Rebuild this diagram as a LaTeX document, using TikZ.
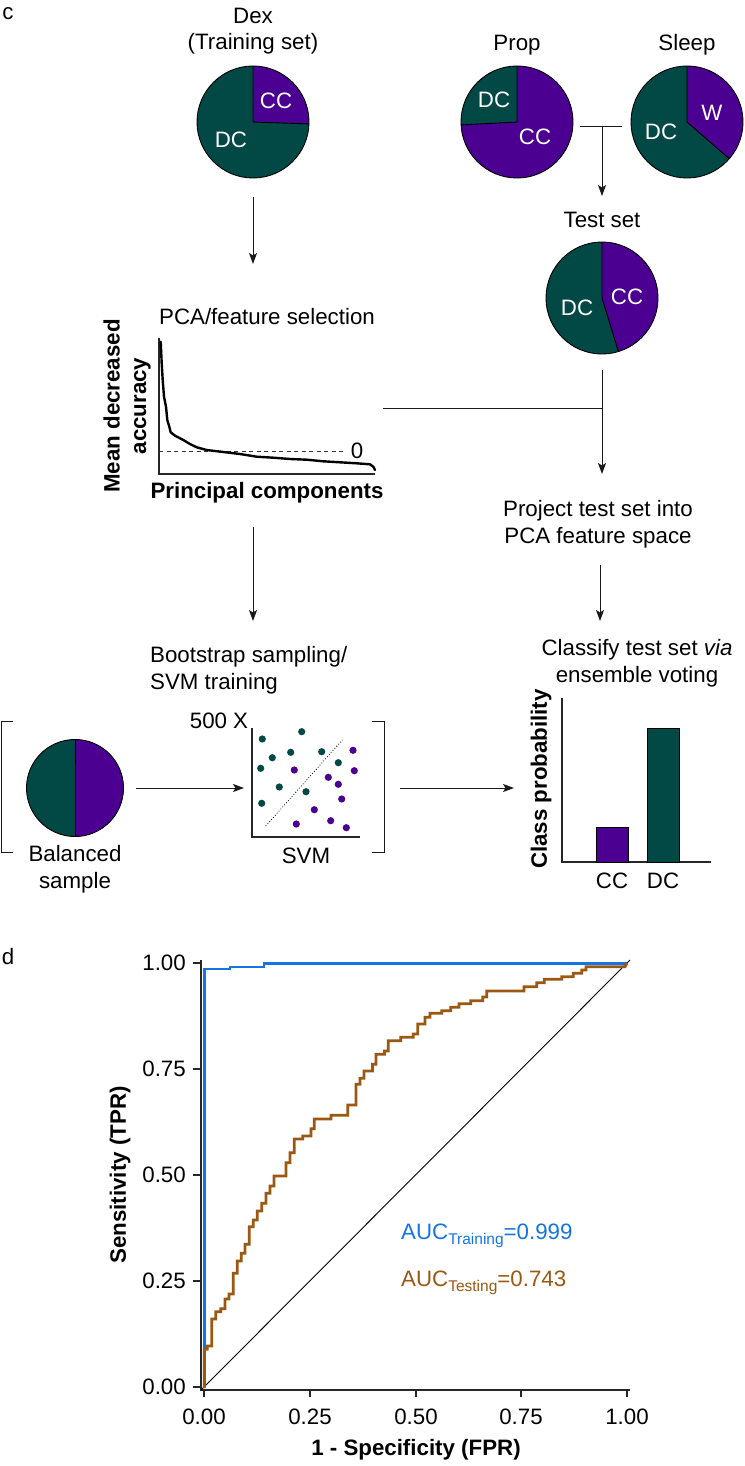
\documentclass[tikz,border=0pt]{standalone}
\usepackage{fontspec}
\setmainfont{Liberation Sans}
\usetikzlibrary{arrows.meta}
\definecolor{tealc}{RGB}{2,73,70}
\definecolor{purpc}{RGB}{75,0,145}
\definecolor{bluec}{RGB}{21,116,228}
\definecolor{brownc}{RGB}{155,88,18}
\newcommand\mkpie[5]{%
  \node[circle, minimum size=2*#3, inner sep=0pt] (#1) at #2 {};
  \fill[tealc] (#1.center) circle[radius=#3];
  \fill[purpc] (#1.center) -- ++(#4:#3) arc[start angle=#4, end angle=#5, radius=#3] -- cycle;
  \draw[line width=0.9pt] (#1.center) ++(#4:#3) -- (#1.center) -- ++(#5:#3);
  \draw[line width=0.9pt] (#1.center) circle[radius=#3];
}
\tikzset{
  lbl/.style={font=\fontsize{22.3}{26.5}\selectfont, inner sep=0pt, align=center},
  blbl/.style={lbl, font=\fontsize{22.3}{26.5}\selectfont\bfseries},
  pielbl/.style={lbl, text=white},
  arr/.style={-{Stealth[length=11pt,width=8pt,inset=2.5pt]}, line width=1pt, draw=black!90},
  conn/.style={line width=1pt, draw=black!90},
  axisl/.style={line width=1.1pt, draw=black!85},
}
\begin{document}
\begin{tikzpicture}[x=1pt,y=1pt]
\useasboundingbox (0,0) rectangle (744,-1466);
\fill[white] (0,0) rectangle (744,-1466);

% ---------- panel c ----------
\node[lbl] (lc) at (8,-14) {c};
\node[lbl] (dext) at (253,-31) {Dex\\(Training set)};
\node[lbl] (propt) at (517,-45) {Prop};
\node[lbl] (sleept) at (687,-45) {Sleep};

\mkpie{dex}{(253,-122)}{56pt}{-2}{90}
\node[pielbl] (dexcc) at (276,-101) {CC};
\node[pielbl] (dexdc) at (231,-140) {DC};

\mkpie{prop}{(517,-122)}{56pt}{183}{450}
\node[pielbl] (propdc) at (494,-100) {DC};
\node[pielbl] (propcc) at (535,-137) {CC};

\mkpie{sleep}{(687,-122)}{56pt}{-41}{90}
\node[pielbl] (sleepw) at (712,-113) {W};
\node[pielbl] (sleepdc) at (661,-132) {DC};

\node[lbl] (testt) at (602,-220) {Test set};
\mkpie{test}{(602,-298)}{56pt}{-73}{90}
\node[pielbl] (testcc) at (627,-297) {CC};
\node[pielbl] (testdc) at (577,-308) {DC};

% connectors top
\coordinate (dexA) at (253,-197);
\coordinate (dexB) at (253,-264);
\draw[arr] (dexA) -- (dexB);
\coordinate (tL) at (580,-127);
\coordinate (tR) at (622,-127);
\coordinate (tM) at (602,-127);
\coordinate (tB) at (602,-196);
\draw[conn] (tL) -- (tR);
\draw[arr] (tM) -- (tB);

% PCA plot
\node[lbl] (pcat) at (267,-317) {PCA/feature selection};
\coordinate (pO) at (159,-474);
\draw[axisl] (159,-338) -- (pO) -- (375,-474);
\draw[line width=0.8pt, dash pattern=on 4pt off 3.5pt, draw=black!80] (159,-451) -- (343,-451);
\node[lbl] (zero) at (357,-451) {0};
\draw[line width=2.4pt, line join=round, line cap=round]
 (160.7,-341.7) -- (161.7,-363.3) -- (162.7,-380) -- (164,-396.7) -- (166,-406.7)
 -- (167.3,-420) -- (169.3,-426.7) -- (170.7,-432.3) -- (175,-435.7) -- (183.3,-440)
 -- (190,-444) -- (196.7,-447.3) -- (206.7,-450) -- (223.3,-452) -- (240,-454)
 -- (256.7,-456.7) -- (273.3,-457.7) -- (290,-459) -- (306.7,-459.7) -- (323.3,-461.3)
 -- (340,-462.3) -- (356.7,-463.3) -- (370,-464.3) -- (373.3,-466.7) -- (375,-470);
\node[blbl, rotate=90] (mda) at (127,-406) {Mean decreased\\accuracy};
\node[blbl] (pcx) at (267,-493) {Principal components};

% test -> project
\coordinate (teA) at (602,-370);
\coordinate (teM) at (602,-408);
\coordinate (teB) at (602,-474);
\coordinate (pcaR) at (383,-408);
\draw[conn] (pcaR) -- (teM);
\draw[arr] (teA) -- (teB);

\node[lbl] (proj) at (598,-524) {Project test set into\\PCA feature space};
\coordinate (prA) at (600,-565);
\coordinate (prB) at (600,-621);
\draw[arr] (prA) -- (prB);
\node[lbl] (classify) at (637,-663) {Classify test set \textit{via}\\ensemble voting};

% PCA -> bootstrap
\coordinate (pcA) at (253,-527);
\coordinate (pcB) at (253,-621);
\draw[arr] (pcA) -- (pcB);
\node[lbl, align=left, anchor=west] (boot) at (150,-670) {Bootstrap sampling/\\SVM training};

% brackets
\draw[conn] (13,-721) -- (1,-721) -- (1,-852) -- (13,-852);
\draw[conn] (372,-721) -- (384,-721) -- (384,-852) -- (372,-852);

% balanced pie
\mkpie{bal}{(75,-788)}{48.5pt}{-90}{90}
\node[lbl] (balt) at (75,-869) {Balanced\\sample};
\coordinate (baA) at (136,-788);
\coordinate (baB) at (244,-788);
\draw[arr] (baA) -- (baB);

% SVM plot
\node[lbl] (fivehx) at (219,-721) {500 X};
\draw[axisl] (252,-728) -- (252,-837) -- (360,-837);
\draw[dotted, line width=0.8pt] (265.7,-826) -- (342.3,-740);
\foreach \p in {(262.3,-739),(301.7,-731.7),(272.3,-757.7),(290.7,-752.3),(321.7,-751.7),(260.7,-768.3),(338.3,-762.7),(279.3,-787),(306,-791.7),(261.7,-803.3)}
  \fill[tealc] \p circle[radius=3.6pt];
\foreach \p in {(353,-750.3),(294.3,-770),(354.3,-770.7),(328.3,-777.3),(338.3,-784.3),(341.7,-799),(314.3,-809.7),(296.3,-824),(330.7,-820.7),(346.3,-827.7)}
  \fill[purpc] \p circle[radius=3.6pt];
\node[lbl] (svmt) at (306,-856) {SVM};
\coordinate (svA) at (400,-788);
\coordinate (svB) at (514,-788);
\draw[arr] (svA) -- (svB);

% bar chart
\draw[axisl] (562,-698) -- (562,-862) -- (711,-862);
\draw[fill=purpc, line width=0.9pt] (596,-862) rectangle (628,-827);
\draw[fill=tealc, line width=0.9pt] (647,-862) rectangle (679,-728);
\node[blbl, rotate=90] (cprob) at (541,-779) {Class probability};
\node[lbl] (barcc) at (612,-881) {CC};
\node[lbl] (bardc) at (663,-881) {DC};

% ---------- panel d ----------
\node[lbl] (ld) at (8,-957) {d};
\draw[axisl] (201,-960) -- (201,-1390) -- (630,-1390);
\foreach \yy/\t in {1387/0.00,1281/0.25,1175/0.50,1069/0.75,963/1.00}{
  \draw[axisl] (193,-\yy) -- (201,-\yy);
  \node[lbl, anchor=east] at (186,-\yy) {\t};
}
\foreach \xx/\t in {204/0.00,310/0.25,416/0.50,521/0.75,627/1.00}{
  \draw[axisl] (\xx,-1390) -- (\xx,-1397);
  \node[lbl] at (\xx,-1417) {\t};
}
\node[blbl, rotate=90] (sens) at (120,-1175) {Sensitivity (TPR)};
\node[blbl] (fpr) at (416,-1450) {1 - Specificity (FPR)};

\draw[line width=0.9pt] (201,-1390) -- (630,-960);
\draw[bluec, line width=2.8pt, line join=miter]
 (204.8,-1388) -- (204.8,-969) -- (230,-969) -- (230,-967) -- (264,-967) -- (264,-963.5) -- (627,-963.5);
\draw[brownc, line width=2.8pt, line join=miter]
(204.3,-1388) -- (204.3,-1349.3) -- (207.3,-1349.3) -- (207.3,-1346) -- (211.7,-1346)
-- (211.7,-1319) -- (215.7,-1319) -- (215.7,-1311.7) -- (220.7,-1311.7) -- (220.7,-1308.7)
-- (225,-1308.7) -- (225,-1299) -- (229,-1299) -- (229,-1294) -- (233.3,-1294)
-- (233.3,-1273.3) -- (237.3,-1273.3) -- (237.3,-1261) -- (241.3,-1261) -- (241.3,-1253.3)
-- (245,-1253.3) -- (245,-1244.3) -- (249.3,-1244.3) -- (249.3,-1226.7) -- (253.3,-1226.7)
-- (253.3,-1220) -- (257.3,-1220) -- (257.3,-1211) -- (261.7,-1211) -- (261.7,-1203.3)
-- (266,-1203.3) -- (266,-1193.3) -- (270,-1193.3) -- (270,-1186) -- (274,-1186)
-- (274,-1176) -- (286,-1176) -- (286,-1162.7) -- (290,-1162.7) -- (290,-1152.7)
-- (294.3,-1152.7) -- (294.3,-1139) -- (302.7,-1139) -- (302.7,-1136) -- (311,-1136)
-- (311,-1128.7) -- (314.3,-1128.7) -- (314.3,-1119) -- (331,-1119) -- (331,-1115.3)
-- (347.7,-1115.3) -- (347.7,-1105) -- (356,-1105) -- (356,-1084.3) -- (360,-1084.3)
-- (360,-1078.3) -- (364,-1078.3) -- (364,-1071) -- (372.5,-1071) -- (372.5,-1064.3)
-- (376,-1064.3) -- (376,-1054.2) -- (384.5,-1054.2) -- (384.5,-1051) -- (388.3,-1051)
-- (388.3,-1040.7) -- (400.7,-1040.7) -- (400.7,-1037.3) -- (413.3,-1037.3) -- (413.3,-1034)
-- (417.7,-1034) -- (417.7,-1024) -- (425,-1024) -- (425,-1017.3) -- (430,-1017.3)
-- (430,-1013.3) -- (441.7,-1013.3) -- (441.7,-1010.7) -- (450.7,-1010.7) -- (450.7,-1007.3)
-- (459,-1007.3) -- (459,-1003.7) -- (470.7,-1003.7) -- (470.7,-1000.7) -- (482.7,-1000.7)
-- (482.7,-997) -- (486.7,-997) -- (486.7,-991) -- (524,-991) -- (524,-986.7)
-- (536.7,-986.7) -- (536.7,-982.7) -- (544.3,-982.7) -- (544.3,-979.3) -- (561.7,-979.3)
-- (561.7,-976.7) -- (573.3,-976.7) -- (573.3,-973.3) -- (581.7,-973.3) -- (581.7,-970)
-- (586,-970) -- (586,-966.7) -- (625,-966.7) -- (627,-963);

\node[lbl, anchor=west, text=bluec] (auctr) at (401,-1236) {AUC{\fontsize{15.5}{16}\selectfont\raisebox{-4.5pt}{Training}}=0.999};
\node[lbl, anchor=west, text=brownc] (aucte) at (401,-1283) {AUC{\fontsize{15.5}{16}\selectfont\raisebox{-4.5pt}{Testing}}=0.743};
\end{tikzpicture}
\end{document}
